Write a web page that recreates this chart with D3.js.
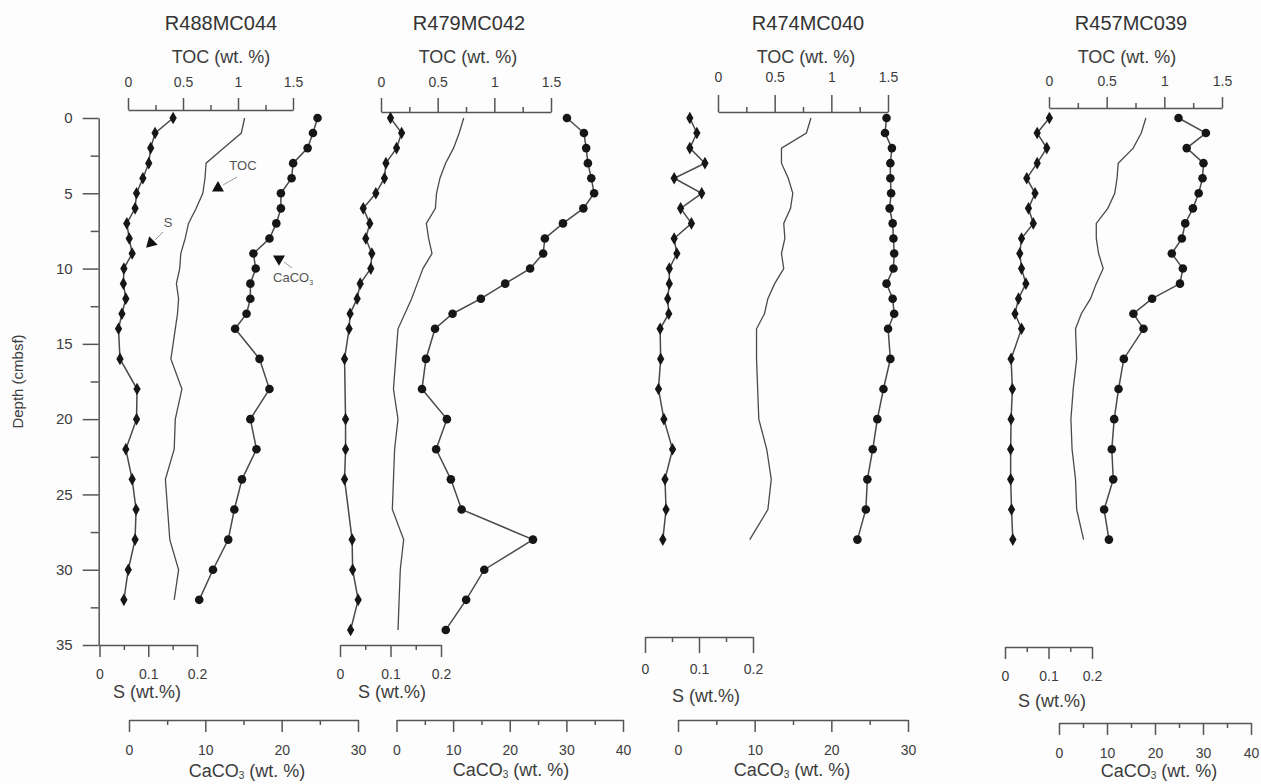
<!DOCTYPE html>
<html>
<head>
<meta charset="utf-8">
<script src="https://cdn.jsdelivr.net/npm/d3@7"></script>
<style>
  body { margin: 0; background: #fdfdfd; }
  svg { display: block; font-family: "Liberation Sans", Arial, sans-serif; }
</style>
</head>
<body>
<svg id="chart" width="1261" height="784"></svg>
<script>
// ---------- data (depth in cm below sea floor, values in wt. %) ----------
const stations = ["R488MC044", "R479MC042", "R474MC040", "R457MC039"];

const depthTicks = [0, 5, 10, 15, 20, 25, 30, 35];
const depthTickLabels = ["0", "5", "10", "15", "20", "25", "30", "35"];
const depthMinor = [2.5, 7.5, 12.5, 17.5, 22.5, 27.5, 32.5];

const tocTicks = [0, 0.5, 1, 1.5];
const tocTickLabels = ["0", "0.5", "1", "1.5"];
const tocMinor = [0.25, 0.75, 1.25];

const sTicks = [0, 0.1, 0.2];
const sTickLabels = ["0", "0.1", "0.2"];
const sMinor = [0.05, 0.15];

const caco3Ticks30 = [0, 10, 20, 30];
const caco3Labels30 = ["0", "10", "20", "30"];
const caco3Minor30 = [5, 15, 25];
const caco3Ticks40 = [0, 10, 20, 30, 40];
const caco3Labels40 = ["0", "10", "20", "30", "40"];
const caco3Minor40 = [5, 15, 25, 35];

// R488MC044
const r488Depth = [0,1,2,3,4,5,6,7,8,9,10,11,12,13,14,16,18,20,22,24,26,28,30,32];
const r488S     = [0.151,0.114,0.105,0.101,0.089,0.076,0.073,0.056,0.061,0.067,0.050,0.049,0.054,0.046,0.039,0.042,0.077,0.076,0.054,0.067,0.075,0.073,0.059,0.050];
const r488TOC   = [1.06,1.03,0.87,0.71,0.70,0.68,0.62,0.55,0.52,0.48,0.47,0.44,0.46,0.45,0.43,0.39,0.49,0.43,0.42,0.34,0.36,0.38,0.46,0.42];
const r488CaCO3 = [24.7,24.1,23.4,21.5,21.3,19.9,19.9,19.3,18.4,16.3,16.6,15.9,15.9,15.4,13.9,17.1,18.4,15.9,16.7,14.8,13.8,13.0,11.0,9.2];

// R479MC042 (S not measured at 18 and 26 cm)
const r479Depth = [0,1,2,3,4,5,6,7,8,9,10,11,12,13,14,16,18,20,22,24,26,28,30,32,34];
const r479S     = [0.100,0.122,0.112,0.091,0.088,0.071,0.046,0.059,0.051,0.063,0.061,0.040,0.034,0.020,0.018,0.009,null,0.011,0.011,0.009,null,0.024,0.025,0.036,0.021];
const r479TOC   = [0.73,0.69,0.64,0.57,0.52,0.49,0.48,0.40,0.42,0.45,0.37,0.32,0.27,0.21,0.15,0.13,0.11,0.15,0.12,0.11,0.10,0.20,0.17,0.16,0.15];
const r479CaCO3 = [30.1,33.1,33.5,33.8,34.4,34.9,33.0,29.4,26.2,25.9,23.6,19.2,14.9,9.9,6.8,5.2,4.5,8.9,7.0,9.6,11.5,24.1,15.5,12.3,8.7];

// R474MC040
const r474Depth = [0,1,2,3,4,5,6,7,8,9,10,11,12,13,14,16,18,20,22,24,26,28];
const r474S     = [0.083,0.096,0.083,0.111,0.054,0.105,0.066,0.086,0.054,0.059,0.045,0.045,0.042,0.044,0.028,0.029,0.025,0.035,0.051,0.037,0.039,0.033];
const r474TOC   = [0.82,0.78,0.56,0.56,0.62,0.66,0.64,0.58,0.59,0.56,0.58,0.50,0.44,0.41,0.34,0.34,0.35,0.36,0.43,0.47,0.44,0.28];
const r474CaCO3 = [27.2,27.0,27.9,27.7,27.7,27.8,27.6,28.0,28.1,28.2,28.1,27.2,28.0,28.2,27.4,27.7,26.8,26.0,25.4,24.7,24.5,23.4];

// R457MC039
const r457Depth = [0,1,2,3,4,5,6,7,8,9,10,11,12,13,14,16,18,20,22,24,26,28];
const r457S     = [0.102,0.074,0.096,0.074,0.050,0.069,0.054,0.065,0.038,0.034,0.038,0.048,0.031,0.023,0.038,0.014,0.017,0.014,0.013,0.013,0.015,0.018];
const r457TOC   = [0.84,0.80,0.73,0.60,0.59,0.57,0.51,0.41,0.41,0.43,0.47,0.41,0.36,0.28,0.23,0.24,0.21,0.19,0.20,0.23,0.24,0.30];
const r457CaCO3 = [24.9,30.6,26.6,30.1,29.9,29.1,27.9,26.3,25.6,23.5,25.8,25.2,19.4,15.5,17.6,13.5,12.4,11.5,11.0,11.3,9.4,10.4];

// ---------- layout ----------
const INK = "#3c3c3c", AXIS = "#555", LINE = "#4a4a4a", DOT = "#161616";
const FONT = "'Liberation Sans', Arial, sans-serif";

const panels = [
  { name: stations[0], depth: r488Depth, s: r488S, toc: r488TOC, caco3: r488CaCO3,
    titleX: 221, tocX: [128, 293], tocY: 110, tocTick: 12, tocPad: 11, tocTitleX: 221,
    sX: [99.5, 197], sY: 645, sTick: 12, sPad: 12, sTitleX: 147, sTitleY: 693,
    cX: [129, 358], cY: 720, cMax: 30, cTitleX: 247, cTitleY: 772 },
  { name: stations[1], depth: r479Depth, s: r479S, toc: r479TOC, caco3: r479CaCO3,
    titleX: 469, tocX: [381, 551], tocY: 112, tocTick: 14, tocPad: 11, tocTitleX: 468,
    sX: [340, 441], sY: 645, sTick: 12, sPad: 12, sTitleX: 392, sTitleY: 693,
    cX: [396.5, 623], cY: 720, cMax: 40, cTitleX: 511, cTitleY: 771 },
  { name: stations[2], depth: r474Depth, s: r474S, toc: r474TOC, caco3: r474CaCO3,
    titleX: 808, tocX: [718, 888], tocY: 112, tocTick: 17, tocPad: 13, tocTitleX: 806,
    sX: [645, 753], sY: 637, sTick: 16, sPad: 11, sTitleX: 706, sTitleY: 697,
    cX: [678, 908], cY: 720, cMax: 30, cTitleX: 792, cTitleY: 771 },
  { name: stations[3], depth: r457Depth, s: r457S, toc: r457TOC, caco3: r457CaCO3,
    titleX: 1131, tocX: [1049, 1222], tocY: 108, tocTick: 11, tocPad: 11, tocTitleX: 1127,
    sX: [1005, 1092], sY: 647, sTick: 12, sPad: 12, sTitleX: 1052, sTitleY: 702,
    cX: [1059, 1251], cY: 723, cMax: 40, cTitleX: 1159, cTitleY: 772 }
];

const svg = d3.select("#chart");
svg.append("rect").attr("width", 1261).attr("height", 784).attr("fill", "#fdfdfd");

const y = d3.scaleLinear().domain([0, 35]).range([118, 645]);

function styleAxis(g, fontSize) {
  g.attr("font-family", FONT).attr("font-size", fontSize);
  g.select(".domain").attr("stroke", AXIS).attr("stroke-width", 1.5);
  g.selectAll(".tick line").attr("stroke", AXIS).attr("stroke-width", 1.5);
  g.selectAll(".tick text").attr("fill", INK);
}
function minorTicks(g) {
  g.select(".domain").remove();
  g.selectAll(".tick line").attr("stroke", AXIS).attr("stroke-width", 1.5);
}

// ---------- depth axis ----------
const depthG = svg.append("g").attr("transform", "translate(98.7,0)");
depthG.call(d3.axisLeft(y).tickValues(depthTicks).tickSize(16).tickPadding(10)
  .tickSizeOuter(0).tickFormat((d, i) => depthTickLabels[i]));
styleAxis(depthG, 15);
svg.append("g").attr("transform", "translate(98.7,0)")
  .call(d3.axisLeft(y).tickValues(depthMinor).tickSize(8).tickFormat(""))
  .call(minorTicks);

svg.append("text")
  .attr("transform", `translate(19,${y(17.5)}) rotate(-90)`)
  .attr("text-anchor", "middle").attr("dominant-baseline", "middle")
  .attr("font-family", FONT).attr("font-size", 15).attr("fill", INK)
  .text("Depth (cmbsf)");

// ---------- panels ----------
const sSymbol = d3.symbol().type(d3.symbolDiamond).size(46);

function caco3Title(g, x, yPos) {
  const t = g.append("text").attr("x", x).attr("y", yPos)
    .attr("text-anchor", "middle").attr("dominant-baseline", "middle")
    .attr("font-family", FONT).attr("font-size", 18).attr("fill", INK);
  t.append("tspan").text("CaCO");
  t.append("tspan").attr("font-size", 10).attr("dy", 4).text("3");
  t.append("tspan").attr("dy", -4).text(" (wt. %)");
}

panels.forEach(p => {
  const g = svg.append("g");
  const xs = d3.scaleLinear().domain([0, 0.2]).range(p.sX);
  const xt = d3.scaleLinear().domain([0, 1.5]).range(p.tocX);
  const xc = d3.scaleLinear().domain([0, p.cMax]).range(p.cX);
  p.scales = { xs, xt, xc };

  // station name
  g.append("text").attr("x", p.titleX).attr("y", 25)
    .attr("text-anchor", "middle").attr("dominant-baseline", "middle")
    .attr("font-family", FONT).attr("font-size", 20).attr("fill", "#333")
    .text(p.name);

  // TOC axis (top)
  const tocG = g.append("g").attr("transform", `translate(0,${p.tocY})`);
  tocG.call(d3.axisTop(xt).tickValues(tocTicks).tickSize(p.tocTick).tickPadding(p.tocPad)
    .tickSizeOuter(0).tickFormat((d, i) => tocTickLabels[i]));
  styleAxis(tocG, 14);
  g.append("g").attr("transform", `translate(0,${p.tocY})`)
    .call(d3.axisTop(xt).tickValues(tocMinor).tickSize(5).tickFormat(""))
    .call(minorTicks);
  g.append("text").attr("x", p.tocTitleX).attr("y", 58)
    .attr("text-anchor", "middle").attr("dominant-baseline", "middle")
    .attr("font-family", FONT).attr("font-size", 18).attr("fill", INK)
    .text("TOC (wt. %)");

  // S axis (bottom)
  const sG = g.append("g").attr("transform", `translate(0,${p.sY})`);
  sG.call(d3.axisBottom(xs).tickValues(sTicks).tickSize(p.sTick).tickPadding(p.sPad)
    .tickSizeOuter(0).tickFormat((d, i) => sTickLabels[i]));
  styleAxis(sG, 14);
  g.append("g").attr("transform", `translate(0,${p.sY})`)
    .call(d3.axisBottom(xs).tickValues(sMinor).tickSize(5).tickFormat(""))
    .call(minorTicks);
  g.append("text").attr("x", p.sTitleX).attr("y", p.sTitleY)
    .attr("text-anchor", "middle").attr("dominant-baseline", "middle")
    .attr("font-family", FONT).attr("font-size", 18).attr("fill", INK)
    .text("S (wt.%)");

  // CaCO3 axis (bottom, lowest)
  const cTicks = p.cMax === 40 ? caco3Ticks40 : caco3Ticks30;
  const cLabels = p.cMax === 40 ? caco3Labels40 : caco3Labels30;
  const cMinor = p.cMax === 40 ? caco3Minor40 : caco3Minor30;
  const cG = g.append("g").attr("transform", `translate(0,${p.cY})`);
  cG.call(d3.axisBottom(xc).tickValues(cTicks).tickSize(12).tickPadding(13)
    .tickSizeOuter(0).tickFormat((d, i) => cLabels[i]));
  styleAxis(cG, 14);
  g.append("g").attr("transform", `translate(0,${p.cY})`)
    .call(d3.axisBottom(xc).tickValues(cMinor).tickSize(5).tickFormat(""))
    .call(minorTicks);
  caco3Title(g, p.cTitleX, p.cTitleY);

  // series
  const tocPts = p.depth.map((d, i) => ({ d, v: p.toc[i] }));
  const sPts = p.depth.map((d, i) => ({ d, v: p.s[i] })).filter(o => o.v !== null);
  const cPts = p.depth.map((d, i) => ({ d, v: p.caco3[i] }));

  g.append("path").datum(tocPts)
    .attr("fill", "none").attr("stroke", LINE).attr("stroke-width", 1.3)
    .attr("d", d3.line().x(o => xt(o.v)).y(o => y(o.d)));

  g.append("path").datum(sPts)
    .attr("fill", "none").attr("stroke", LINE).attr("stroke-width", 1.5)
    .attr("d", d3.line().x(o => xs(o.v)).y(o => y(o.d)));
  g.selectAll(".s-mark").data(sPts).join("path")
    .attr("class", "s-mark")
    .attr("transform", o => `translate(${xs(o.v)},${y(o.d)})`)
    .attr("d", sSymbol).attr("fill", DOT);

  g.append("path").datum(cPts)
    .attr("fill", "none").attr("stroke", LINE).attr("stroke-width", 1.5)
    .attr("d", d3.line().x(o => xc(o.v)).y(o => y(o.d)));
  g.selectAll(".c-mark").data(cPts).join("circle")
    .attr("class", "c-mark")
    .attr("cx", o => xc(o.v)).attr("cy", o => y(o.d)).attr("r", 4.3)
    .attr("fill", DOT);
});

// ---------- curve labels in the first core ----------
const p0 = panels[0].scales;
const notes = [
  { text: "TOC", sc: p0.xt, label: [1.045, 3.25], from: [0.991, 3.92], to: [0.864, 4.45], head: [0.818, 4.65], rot: 0 },
  { text: "S", sc: p0.xs, label: [0.1405, 7.04], from: [0.1303, 7.57], to: [0.1138, 8.10], head: [0.1056, 8.30], rot: -135 },
  { text: "CaCO", sub: "3", sc: p0.xc, label: [21.49, 10.69], from: [21.35, 9.96], to: [20.31, 9.56], head: [19.65, 9.36], rot: 180 }
];
const headSym = d3.symbol().type(d3.symbolTriangle).size(62);
notes.forEach(n => {
  const t = svg.append("text")
    .attr("x", n.sc(n.label[0])).attr("y", y(n.label[1]))
    .attr("text-anchor", "middle").attr("dominant-baseline", "middle")
    .attr("font-family", FONT).attr("font-size", 13).attr("fill", "#555");
  t.append("tspan").text(n.text);
  if (n.sub) t.append("tspan").attr("font-size", 7).attr("dy", 4).text(n.sub);
  svg.append("line")
    .attr("x1", n.sc(n.from[0])).attr("y1", y(n.from[1]))
    .attr("x2", n.sc(n.to[0])).attr("y2", y(n.to[1]))
    .attr("stroke", "#999").attr("stroke-width", 1);
  svg.append("path")
    .attr("transform", `translate(${n.sc(n.head[0])},${y(n.head[1])}) rotate(${n.rot})`)
    .attr("d", headSym).attr("fill", "#111");
});
</script>
</body>
</html>
